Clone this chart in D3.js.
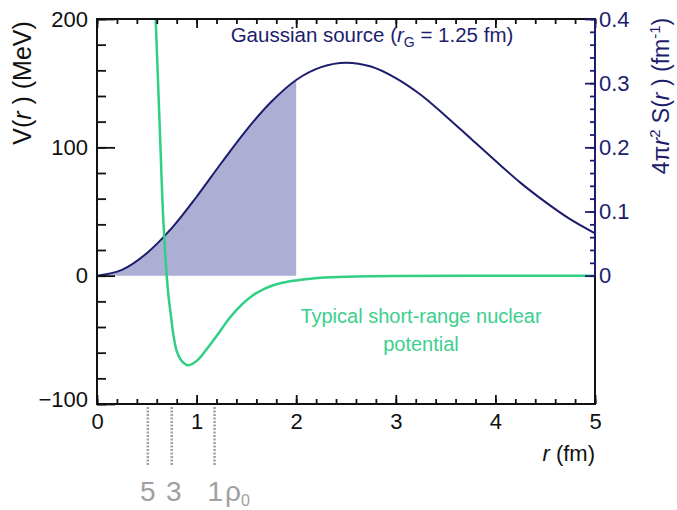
<!DOCTYPE html>
<html><head><meta charset="utf-8">
<script src="https://cdn.jsdelivr.net/npm/d3@7"></script>
<style>
body{margin:0;background:#fff;}
text{font-family:"Liberation Sans",Arial,Helvetica,sans-serif;}
</style></head>
<body><svg id="c" width="677" height="510"></svg>
<script>
// ---- data ----
const sourceR   = [0,0.25,0.5,0.75,1.0,1.25,1.5,1.75,2.0,2.25,2.5,2.75,3.0,3.25,3.5,3.75,4.0,4.25,4.5,4.75,5.0];
const sourceVal = [0,0.009,0.035,0.074,0.123,0.176,0.227,0.271,0.305,0.325,0.332,0.326,0.308,0.282,0.249,0.214,0.179,0.145,0.115,0.088,0.066];
const potR      = [0.589,0.628,0.666,0.700,0.716,0.740,0.766,0.800,0.850,0.917,1.001,1.101,1.202,1.335,1.453,1.553,1.68,1.82,2.0,2.12,2.29,2.6,3.0,4.0,5.0];
const potV      = [200,120,43,0,-14.3,-30,-45.6,-58.6,-66.4,-69.8,-66.4,-57.3,-46.9,-32.6,-22.5,-16,-10.2,-6.3,-3.7,-2.6,-1.5,-0.6,-0.2,0,0];
const shadeMax  = 2.0;
const densityR  = [0.51,0.75,1.18];
const densityLabels = ["5","3","1"];
const xTicks    = [0,1,2,3,4,5];
const yLeftTicks  = [-100,0,100,200];
const yRightTicks = [0,0.1,0.2,0.3,0.4];

const navy="#1d1d6e", green="#2fd083", greenText="#3ccf8e", gray="#a0a0a0";
const svg=d3.select("#c");
const L=97,R=595,T=19,B=404;
const x=d3.scaleLinear().domain([0,5]).range([L,R]);
const yL=d3.scaleLinear().domain([-100,200]).range([B,T]);
const yR=d3.scaleLinear().domain([0,0.4]).range([yL(0),T]);

const src=sourceR.map((r,i)=>({r,v:sourceVal[i]}));
const pot=potR.map((r,i)=>({r,v:potV[i]}));

svg.append("clipPath").attr("id","clip").append("rect").attr("x",L).attr("y",T).attr("width",R-L).attr("height",B-T);
const g=svg.append("g").attr("clip-path","url(#clip)");

// shaded area
g.append("path").datum(src.filter(d=>d.r<=shadeMax))
 .attr("fill","#adaed3")
 .attr("d",d3.area().x(d=>x(d.r)).y0(yR(0)).y1(d=>yR(d.v)).curve(d3.curveMonotoneX));
// source curve
g.append("path").datum(src).attr("fill","none").attr("stroke",navy).attr("stroke-width",2)
 .attr("d",d3.line().x(d=>x(d.r)).y(d=>yR(d.v)).curve(d3.curveMonotoneX));
// potential
g.append("path").datum(pot).attr("fill","none").attr("stroke",green).attr("stroke-width",2.5)
 .attr("d",d3.line().x(d=>x(d.r)).y(d=>yL(d.v)).curve(d3.curveCatmullRom.alpha(0.5)));

// frame
svg.append("rect").attr("x",L).attr("y",T).attr("width",R-L).attr("height",B-T)
 .attr("fill","none").attr("stroke","#111").attr("stroke-width",2);

const minorX=d3.range(0,5.001,0.2).map(v=>+v.toFixed(2));
function styleAxis(sel,col){sel.select(".domain").remove();sel.selectAll("line").attr("stroke",col).attr("stroke-width",1.8);
 sel.selectAll("text").attr("fill",col).style("font-size","22px");}

// bottom
svg.append("g").attr("transform",`translate(0,${B})`).call(d3.axisBottom(x).tickValues(minorX).tickSize(-5).tickFormat("")).call(s=>styleAxis(s,"#111"));
svg.append("g").attr("transform",`translate(0,${B})`).call(d3.axisBottom(x).tickValues(xTicks).tickSize(-9).tickPadding(9).tickFormat(d3.format("d"))).call(s=>styleAxis(s,"#111"));
// top
svg.append("g").attr("transform",`translate(0,${T})`).call(d3.axisTop(x).tickValues(minorX).tickSize(-5).tickFormat("")).call(s=>styleAxis(s,"#111"));
svg.append("g").attr("transform",`translate(0,${T})`).call(d3.axisTop(x).tickValues(xTicks).tickSize(-9).tickFormat("")).call(s=>styleAxis(s,"#111"));
// left
svg.append("g").attr("transform",`translate(${L},0)`).call(d3.axisLeft(yL).tickValues(d3.range(-100,201,20)).tickSize(-9).tickFormat("")).call(s=>styleAxis(s,"#111"));
const la=svg.append("g").attr("transform",`translate(${L},0)`).call(d3.axisLeft(yL).tickValues(yLeftTicks).tickSize(-18).tickPadding(9).tickFormat(d=>d<0?"\u2212"+Math.abs(d):d)).call(s=>styleAxis(s,"#111"));
la.selectAll(".tick").filter(d=>d===-100).select("text").attr("dy","0.1em");
// right
svg.append("line").attr("x1",R).attr("x2",R).attr("y1",yR(0)).attr("y2",yR(0.4)).attr("stroke",navy).attr("stroke-width",2);
svg.append("g").attr("transform",`translate(${R},0)`).call(d3.axisRight(yR).tickValues(d3.range(0,0.4001,0.02)).tickSize(-5).tickFormat("")).call(s=>styleAxis(s,navy));
svg.append("g").attr("transform",`translate(${R},0)`).call(d3.axisRight(yR).tickValues(yRightTicks).tickSize(-10).tickPadding(4).tickFormat(d=>d===0?"0":d3.format(".1f")(d))).call(s=>styleAxis(s,navy));

// axis titles
const lt=svg.append("text").attr("transform","translate(31,83) rotate(-90)").attr("text-anchor","middle").style("font-size","25px").attr("fill","#111");
lt.append("tspan").text("V(");lt.append("tspan").style("font-style","italic").text("r");lt.append("tspan").text(" ) (MeV)");
const rt=svg.append("text").attr("transform","translate(669,96) rotate(-90)").attr("text-anchor","middle").style("font-size","23px").attr("fill",navy);
rt.append("tspan").text("4\u03C0");rt.append("tspan").style("font-style","italic").text("r");
rt.append("tspan").attr("dy",-9).style("font-size","15px").text("2");
rt.append("tspan").attr("dy",9).text(" S(");rt.append("tspan").style("font-style","italic").text("r");
rt.append("tspan").text(" )  (fm");rt.append("tspan").attr("dy",-9).style("font-size","15px").text("-1");
rt.append("tspan").attr("dy",9).text(")");
const xt=svg.append("text").attr("x",R).attr("y",461).attr("text-anchor","end").style("font-size","22px").attr("fill","#111");
xt.append("tspan").style("font-style","italic").text("r");xt.append("tspan").text(" (fm)");

// legend texts
const gt=svg.append("text").attr("x",372).attr("y",42).attr("text-anchor","middle").style("font-size","20.5px").attr("fill",navy);
gt.append("tspan").text("Gaussian source (");gt.append("tspan").style("font-style","italic").text("r");
gt.append("tspan").attr("dy",5).style("font-size","14px").text("G");gt.append("tspan").attr("dy",-5).text(" = 1.25 fm)");
svg.append("text").attr("x",421).attr("y",323).attr("text-anchor","middle").style("font-size","20px").attr("fill",greenText).text("Typical short-range nuclear");
svg.append("text").attr("x",421).attr("y",351).attr("text-anchor","middle").style("font-size","20px").attr("fill",greenText).text("potential");

// density markers
densityR.forEach((r,i)=>{
  svg.append("line").attr("x1",x(r)).attr("x2",x(r)).attr("y1",B+3).attr("y2",466)
   .attr("stroke",gray).attr("stroke-width",2.5).attr("stroke-dasharray","2,1.5");
  const t=svg.append("text").attr("y",501).style("font-size","28px").attr("fill",gray);
  if(i===densityLabels.length-1){
    t.attr("x",x(r)-7).attr("text-anchor","start");
    t.append("tspan").text(densityLabels[i]);
    t.append("tspan").attr("dx",2).text("\u03C1");
    t.append("tspan").attr("dy",5).style("font-size","16px").text("0");
  } else {
    t.attr("x",x(r)+(i===1?2:0)).attr("text-anchor","middle").text(densityLabels[i]);
  }
});
</script></body></html>
